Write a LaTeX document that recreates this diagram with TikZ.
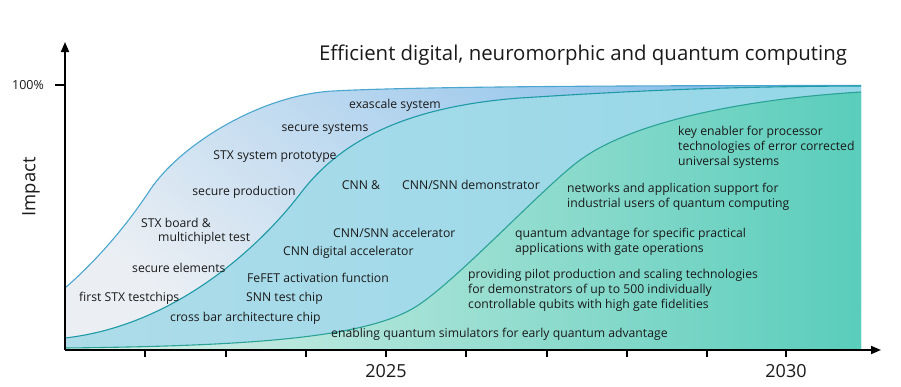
\documentclass[tikz,border=0pt]{standalone}
\usepackage{fontspec}
\setmainfont{Open Sans}
\usetikzlibrary{arrows.meta}
\definecolor{txt}{HTML}{1A1A1A}
\definecolor{outerA}{HTML}{EBEFF4}
\definecolor{outerB}{HTML}{8AC0EA}
\definecolor{midA}{HTML}{AEDCE9}
\definecolor{midB}{HTML}{7CD0E6}
\definecolor{midC}{HTML}{94D7E8}
\definecolor{quA}{HTML}{DDF1EA}
\definecolor{quB}{HTML}{5ACDBB}
\definecolor{lineOuter}{HTML}{4BA6CF}
\definecolor{lineMid}{HTML}{1E9AA6}
\definecolor{lineQu}{HTML}{2AA396}
\begin{document}
\begin{tikzpicture}[x=1pt,y=-1pt,
  lbl/.style={font=\fontsize{12.2}{15}\selectfont, text=txt, inner sep=0pt},
  blk/.style={lbl, align=left, anchor=west},
  axisline/.style={line width=1.8pt, black},
  tick/.style={line width=1.4pt, black},
  curveline/.style={line width=1.1pt}]
\useasboundingbox (0,0) rectangle (901,386);

\def\outerpath{(65,288) .. controls (95,262) and (125,228) .. (150,190) .. controls (180,145) and (260,95) .. (333,91) .. controls (420,86.3) and (650,85.5) .. (861,85.5)}
\def\midpath{(65,338) .. controls (180,325) and (265,240) .. (300,194) .. controls (330,154.5) and (385,108) .. (520,98) .. controls (600,93) and (700,86.5) .. (861,86)}
\def\qupath{(65,348) .. controls (250,346) and (367,338) .. (417,306) .. controls (460,278) and (550,180) .. (583,158) .. controls (630,125) and (730,100) .. (861,92)}

% regions
\shade[shading=axis, top color=outerB, bottom color=outerA, shading angle=-40]
  (65,350) -- \outerpath -- (861,350) -- cycle;
\shade[left color=midA, middle color=midB, right color=midC]
  (65,350) -- \midpath -- (861,350) -- cycle;
\shade[left color=quA, right color=quB]
  (65,350) -- \qupath -- (861,350) -- cycle;

% curves
\draw[curveline, lineOuter] \outerpath;
\draw[curveline, lineMid] \midpath;
\draw[curveline, lineQu] \qupath;

% axes
\coordinate (o) at (65,350);
\coordinate (ytop) at (65,42);
\coordinate (xend) at (881,350);
\draw[axisline, -{Triangle[length=10pt,width=8pt]}] (o) -- (ytop);
\draw[axisline, -{Triangle[length=10pt,width=8pt]}] (o) -- (xend);
\foreach \x in {145,226,306,386,466,547,627,707,786}
  \draw[tick] (\x,350) -- (\x,357);
\draw[tick] (55,85) -- (65,85);

\node[font=\fontsize{12.5}{14}\selectfont, text=txt] (p100) at (28,85) {100\%};
\node[font=\fontsize{18.4}{20}\selectfont, text=txt, rotate=90] (imp) at (31,187) {Impact};
\node[font=\fontsize{18}{20}\selectfont, text=txt] (y25) at (386,371) {2025};
\node[font=\fontsize{18}{20}\selectfont, text=txt] (y30) at (786,371) {2030};
\node[font=\fontsize{20.4}{22}\selectfont, text=txt] (title) at (583,55) {Efficient digital, neuromorphic and quantum computing};

% labels
\node[lbl] (l1) at (395,105) {exascale system};
\node[lbl] (l2) at (325,129) {secure systems};
\node[lbl] (l3) at (275,157) {STX system prototype};
\node[lbl] (l4) at (244,192) {secure production};
\node[lbl] (l5) at (361,185) {CNN \&};
\node[lbl] (l6) at (471,185) {CNN/SNN demonstrator};
\node[lbl, anchor=west] (l7) at (141,223) {STX board \&};
\node[lbl, anchor=west] (l8) at (158,238) {multichiplet test};
\node[lbl, anchor=west] (l9) at (132,268) {secure elements};
\node[lbl, anchor=west] (l10) at (79,298) {first STX testchips};
\node[lbl, anchor=west] (l11) at (333,233) {CNN/SNN accelerator};
\node[lbl, anchor=west] (l12) at (283,252) {CNN digital accelerator};
\node[lbl, anchor=west] (l13) at (247,278) {FeFET activation function};
\node[lbl, anchor=west] (l14) at (246,298) {SNN test chip};
\node[lbl, anchor=west] (l15) at (170,318) {cross bar architecture chip};
\node[lbl, anchor=west] (l16) at (331,334) {enabling quantum simulators for early quantum advantage};
\node[blk] (q1) at (678,147) {key enabler for processor\\technologies of error corrected\\universal systems};
\node[blk] (q2) at (567,197) {networks and application support for\\industrial users of quantum computing};
\node[blk] (q3) at (515,242) {quantum advantage for specific practical\\applications with gate operations};
\node[blk] (q4) at (468,290) {providing pilot production and scaling technologies\\for demonstrators of up to 500 individually\\controllable qubits with high gate fidelities};
\end{tikzpicture}
\end{document}
